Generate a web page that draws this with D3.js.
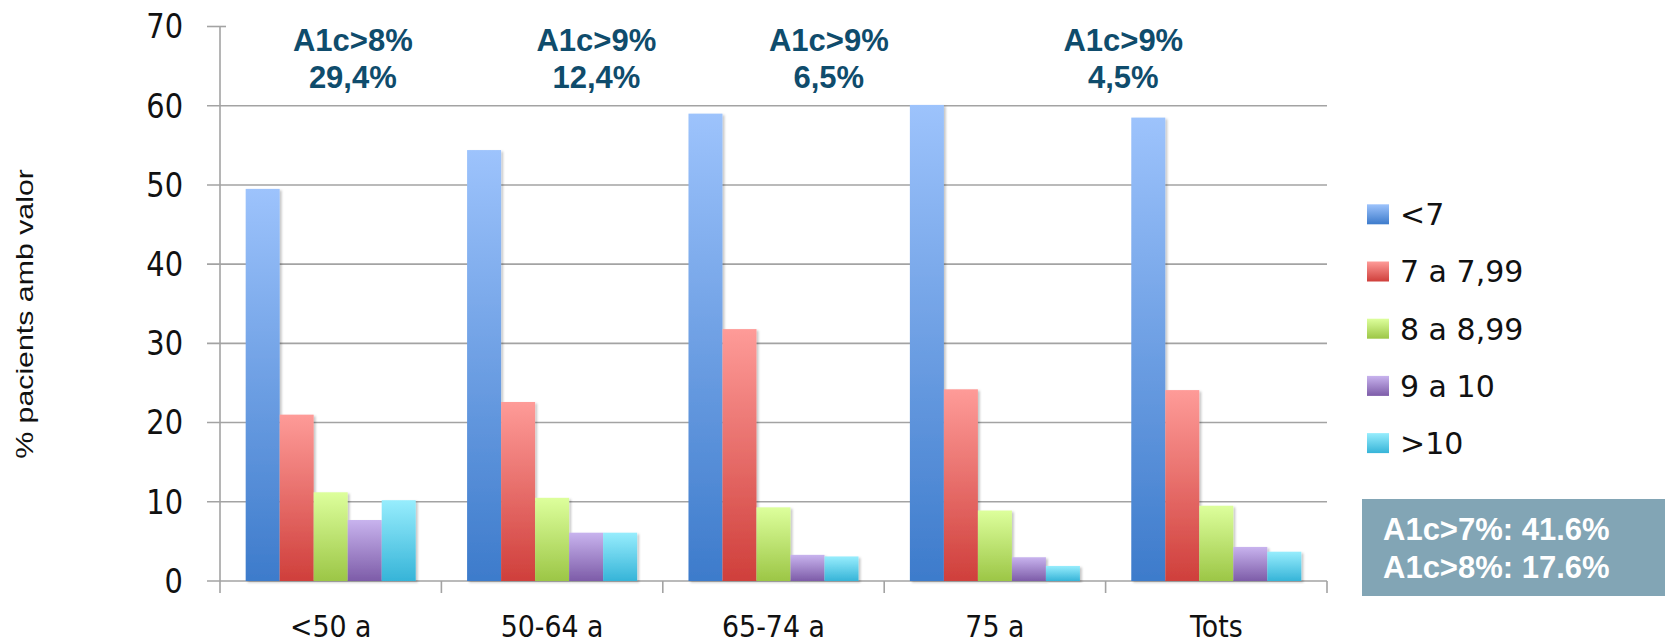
<!DOCTYPE html>
<html>
<head>
<meta charset="utf-8">
<script src="https://cdn.jsdelivr.net/npm/d3@7"></script>
<style>
  html, body { margin: 0; padding: 0; background: #fff; }
  svg { display: block; }
</style>
</head>
<body>
<div id="chart"></div>
<script>
// ---- Data ----
const categories = ["<50 a", "50-64 a", "65-74 a", "75 a", "Tots"];
const seriesNames = ["<7", "7 a 7,99", "8 a 8,99", "9 a 10", ">10"];
const valuesLt7   = [49.5, 54.4, 59.0, 60.1, 58.5];
const values7to8  = [21.0, 22.6, 31.8, 24.2, 24.1];
const values8to9  = [11.2, 10.5, 9.3, 8.9, 9.5];
const values9to10 = [7.7, 6.1, 3.3, 3.0, 4.3];
const valuesGt10  = [10.2, 6.1, 3.1, 1.9, 3.7];
const yTicks = [0, 10, 20, 30, 40, 50, 60, 70];
const annotLine1 = ["A1c>8%", "A1c>9%", "A1c>9%", "A1c>9%"];
const annotLine2 = ["29,4%", "12,4%", "6,5%", "4,5%"];
const annotPos = [0.6, 1.7, 2.75, 4.08]; // in category units
const boxLines = ["A1c>7%: 41.6%", "A1c>8%: 17.6%"];
const yTitle = "% pacients amb valor";

const allSeries = [valuesLt7, values7to8, values8to9, values9to10, valuesGt10];
const colorsTop    = ["#9dc3fc", "#fe9b98", "#ddff9c", "#c8b3ee", "#97edfd"];
const colorsBottom = ["#3d7bcb", "#cf3f3b", "#9cc646", "#7d5ca8", "#36b4d8"];

// ---- Layout ----
const W = 1665, H = 644;
const mLeft = 220, mRight = 1327, mTop = 26.5, mBottom = 581;

const svg = d3.select("#chart").append("svg").attr("width", W).attr("height", H);
const defs = svg.append("defs");
colorsTop.forEach((c, i) => {
  const g = defs.append("linearGradient").attr("id", "grad" + i)
    .attr("x1", 0).attr("y1", 0).attr("x2", 0).attr("y2", 1);
  g.append("stop").attr("offset", "0%").attr("stop-color", c);
  g.append("stop").attr("offset", "100%").attr("stop-color", colorsBottom[i]);
});
const flt = defs.append("filter").attr("id", "shadow")
  .attr("x", "-20%").attr("y", "-5%").attr("width", "150%").attr("height", "115%");
flt.append("feDropShadow").attr("dx", 2).attr("dy", 1.5).attr("stdDeviation", 1.2)
  .attr("flood-color", "#000").attr("flood-opacity", 0.22);

const x = d3.scaleBand().domain(categories).range([mLeft, mRight])
  .paddingInner(0.232).paddingOuter(0.116);
const xs = d3.scaleBand().domain(seriesNames).range([0, x.bandwidth()]).padding(0);
const xLin = d3.scaleLinear().domain([0, categories.length]).range([mLeft, mRight]);
const y = d3.scaleLinear().domain([0, 70]).range([mBottom, mTop]);

const gridColor = "#a3a3a3";

// gridlines (0..60 across), ticks
const grid = svg.append("g");
yTicks.forEach(t => {
  grid.append("line")
    .attr("x1", mLeft - 13)
    .attr("x2", t === 70 ? mLeft + 6 : mRight)
    .attr("y1", y(t)).attr("y2", y(t))
    .attr("stroke", gridColor).attr("stroke-width", 1.6);
});
// y axis line
grid.append("line").attr("x1", mLeft).attr("x2", mLeft)
  .attr("y1", y(70)).attr("y2", mBottom + 12)
  .attr("stroke", gridColor).attr("stroke-width", 1.6);
// category ticks
d3.range(1, categories.length + 1).forEach(k => {
  grid.append("line").attr("x1", xLin(k)).attr("x2", xLin(k))
    .attr("y1", mBottom).attr("y2", mBottom + 12)
    .attr("stroke", gridColor).attr("stroke-width", 1.6);
});

// y tick labels (slightly condensed)
svg.append("g").selectAll("text").data(yTicks).join("text")
  .attr("transform", d => `translate(${mLeft - 37},${y(d)}) scale(0.875,1)`)
  .attr("dy", "0.36em")
  .attr("text-anchor", "end")
  .attr("font-family", "DejaVu Sans").attr("font-size", 33).attr("fill", "#111")
  .text(d => d);

// bars
const barsG = svg.append("g");
allSeries.forEach((vals, si) => {
  barsG.append("g").selectAll("rect").data(vals).join("rect")
    .attr("x", (d, i) => x(categories[i]) + xs(seriesNames[si]))
    .attr("y", d => y(d))
    .attr("width", xs.bandwidth())
    .attr("height", d => y(0) - y(d))
    .attr("fill", "url(#grad" + si + ")")
    .attr("filter", "url(#shadow)");
});

// category labels (slightly condensed)
svg.append("g").selectAll("text").data(categories).join("text")
  .attr("transform", d => `translate(${x(d) + x.bandwidth() / 2},637) scale(0.88,1)`)
  .attr("text-anchor", "middle")
  .attr("font-family", "DejaVu Sans").attr("font-size", 30.5).attr("fill", "#111")
  .text(d => d);

// y axis title (elongated along its length)
svg.append("text")
  .attr("transform", "translate(33,314) rotate(-90) scale(1.29,1)")
  .attr("text-anchor", "middle")
  .attr("font-family", "Liberation Sans, Arial, sans-serif").attr("font-size", 23.5)
  .attr("fill", "#111")
  .text(yTitle);

// annotations
const ann = svg.append("g").attr("font-family", "Liberation Sans, Arial, sans-serif")
  .attr("font-weight", "bold").attr("font-size", 31).attr("fill", "#0f4c6c")
  .attr("text-anchor", "middle");
annotLine1.forEach((t, i) => {
  ann.append("text").attr("x", xLin(annotPos[i])).attr("y", 51).text(t);
  ann.append("text").attr("x", xLin(annotPos[i])).attr("y", 88).text(annotLine2[i]);
});

// legend
const leg = svg.append("g");
seriesNames.forEach((s, i) => {
  const cy = 214.3 + i * 57.2;
  leg.append("rect").attr("x", 1367).attr("y", cy - 10).attr("width", 22).attr("height", 20)
    .attr("fill", "url(#grad" + i + ")");
  leg.append("text").attr("x", 1400).attr("y", cy).attr("dy", "0.36em")
    .attr("font-family", "DejaVu Sans").attr("font-size", 30).attr("fill", "#111")
    .text(s);
});

// summary box
svg.append("rect").attr("x", 1362).attr("y", 499).attr("width", W - 1362).attr("height", 97)
  .attr("fill", "#82a5b5");
boxLines.forEach((t, i) => {
  svg.append("text").attr("x", 1383).attr("y", 540 + i * 38.3)
    .attr("font-family", "Liberation Sans, Arial, sans-serif").attr("font-weight", "bold")
    .attr("font-size", 31).attr("fill", "#fff").text(t);
});
</script>
</body>
</html>
